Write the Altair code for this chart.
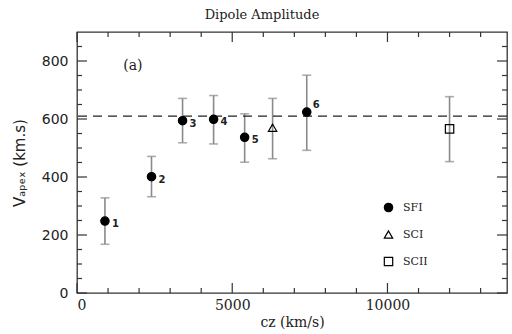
import altair as alt
import pandas as pd

# ---- data ----
cz = [900, 2400, 3400, 4400, 5400, 7400, 6300, 12000]
vapex = [248, 401, 594, 599, 537, 624, 570, 566]
err_lo = [168, 332, 518, 514, 451, 492, 463, 453]
err_hi = [328, 471, 671, 681, 618, 751, 671, 677]
survey = ["SFI", "SFI", "SFI", "SFI", "SFI", "SFI", "SCI", "SCII"]
point_label = ["1", "2", "3", "4", "5", "6", "", ""]
dipole_level = [610]
panel_text = ["(a)"]
panel_x = [1800]
panel_y = [782]

x_major = [0, 5000, 10000]
x_minor = [1000, 2000, 3000, 4000, 6000, 7000, 8000, 9000, 11000, 12000, 13000]
y_major = [0, 200, 400, 600, 800]
y_minor = [50, 100, 150, 250, 300, 350, 450, 500, 550, 650, 700, 750, 850]

W, H = 430, 261
X_MAX, Y_MAX = 13850, 900
INK = "#222222"
ERR = "#8a8a8a"

df = pd.DataFrame({"cz": cz, "v": vapex, "lo": err_lo, "hi": err_hi,
                   "survey": survey, "lab": point_label})

# tick segments (pixel lengths converted into data units of the fixed scales)
def x_ticks(vals, ln):
    d = ln / H * Y_MAX
    rows = [(t, 0, d) for t in vals] + [(t, Y_MAX, Y_MAX - d) for t in vals]
    return pd.DataFrame(rows, columns=["tx", "ty1", "ty2"])

def y_ticks(vals, ln):
    d = ln / W * X_MAX
    rows = [(t, 0, d) for t in vals] + [(t, X_MAX, X_MAX - d) for t in vals]
    return pd.DataFrame(rows, columns=["sy", "sx1", "sx2"])

tx = pd.concat([x_ticks(x_major, 10), x_ticks(x_minor, 5)], ignore_index=True)
ty = pd.concat([y_ticks(y_major, 10), y_ticks(y_minor, 5)], ignore_index=True)

xs = alt.Scale(domain=[0, X_MAX], nice=False, zero=False)
ys = alt.Scale(domain=[0, Y_MAX], nice=False)

xaxis = alt.Axis(values=x_major, ticks=False, domain=False, grid=False,
                 labelFont="DejaVu Serif", labelFontSize=14, labelColor=INK,
                 labelPadding=5, title="cz (km/s)", titleFont="DejaVu Serif",
                 titleFontSize=14, titleFontWeight="normal", titleColor=INK,
                 titlePadding=3, format="d")
yaxis = alt.Axis(values=y_major, ticks=False, domain=False, grid=False,
                 labelFont="DejaVu Sans", labelFontSize=14, labelColor=INK,
                 labelPadding=9, title="Vₐₚₑₓ (km.s)", titleFont="DejaVu Sans",
                 titleFontSize=15, titleFontWeight="normal", titleColor=INK,
                 titlePadding=14, format="d")

base = alt.Chart(df)

bars = base.mark_rule(color=ERR, strokeWidth=1.6).encode(
    x=alt.X("cz:Q", scale=xs, axis=xaxis),
    y=alt.Y("lo:Q", scale=ys, axis=yaxis),
    y2="hi:Q",
)
cap_lo = base.mark_tick(color=ERR, thickness=1.6, size=9, orient="horizontal").encode(
    x="cz:Q", y="lo:Q")
cap_hi = base.mark_tick(color=ERR, thickness=1.6, size=9, orient="horizontal").encode(
    x="cz:Q", y="hi:Q")

dash = alt.Chart(pd.DataFrame({"y": dipole_level})).mark_rule(
    color=INK, strokeDash=[9, 6], strokeWidth=1.2).encode(y="y:Q")

xtick_layer = alt.Chart(tx).mark_rule(color="#333333", strokeWidth=1.2).encode(
    x="tx:Q", y="ty1:Q", y2="ty2:Q")
ytick_layer = alt.Chart(ty).mark_rule(color="#333333", strokeWidth=1.2).encode(
    y="sy:Q", x="sx1:Q", x2="sx2:Q")

leg = alt.Legend(title=None, orient="none", legendX=306, legendY=170, padding=0,
                 rowPadding=13, symbolSize=70, symbolStrokeWidth=1.2,
                 labelFont="DejaVu Serif", labelFontSize=11, labelColor=INK,
                 labelOffset=9)
dom = ["SFI", "SCI", "SCII"]
points = base.mark_point(size=70, strokeWidth=1.2, opacity=1).encode(
    x="cz:Q", y="v:Q",
    shape=alt.Shape("survey:N", scale=alt.Scale(domain=dom,
                    range=["circle", "triangle-up", "square"]), legend=leg),
    fill=alt.Fill("survey:N", scale=alt.Scale(domain=dom,
                  range=["black", "transparent", "transparent"]), legend=leg),
    stroke=alt.Stroke("survey:N", scale=alt.Scale(domain=dom,
                      range=["black", "black", "black"]), legend=leg),
)

labels = base.transform_filter(alt.datum.lab != "6").mark_text(
    align="left", dx=7, dy=3, fontSize=10, font="DejaVu Sans", color=INK,
    fontWeight=600).encode(x="cz:Q", y="v:Q", text="lab:N")
label6 = base.transform_filter(alt.datum.lab == "6").mark_text(
    align="left", dx=6, dy=-7, fontSize=10, font="DejaVu Sans", color=INK,
    fontWeight=600).encode(x="cz:Q", y="v:Q", text="lab:N")

panel = alt.Chart(pd.DataFrame({"t": panel_text, "x": panel_x, "y": panel_y})).mark_text(
    font="DejaVu Serif", fontSize=14, color=INK).encode(x="x:Q", y="y:Q", text="t:N")

chart = alt.layer(bars, cap_lo, cap_hi, dash, xtick_layer, ytick_layer, points,
                  labels, label6, panel
).properties(
    width=W, height=H,
    autosize=alt.AutoSizeParams(type="none"),
    padding={"left": 77, "top": 32, "right": 5, "bottom": 41},
    title=alt.TitleParams("Dipole Amplitude", font="DejaVu Serif", fontSize=13,
                          fontWeight="normal", color=INK, offset=9, dx=-30,
                          anchor="middle"),
    background="white",
).configure_view(stroke="#333333", strokeWidth=1.3)

chart.save("out.html", embed_options={"renderer": "svg", "actions": False})
